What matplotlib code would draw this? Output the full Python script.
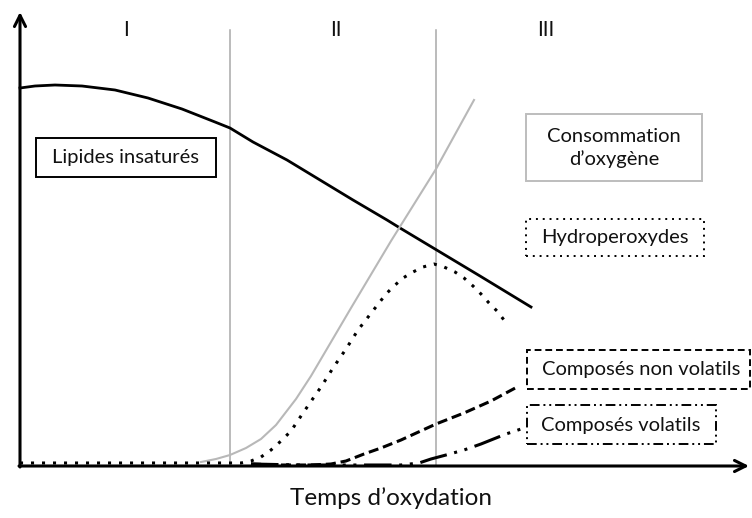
import matplotlib.pyplot as plt
from matplotlib.patches import Rectangle

plt.rcParams['font.family'] = ['Lato', 'DejaVu Sans']

# Courbes d'oxydation des lipides (unités arbitraires)
t_lipides = [0, 15, 35, 62, 95, 128, 162, 195, 210, 233, 267, 300, 333, 367, 380, 400, 415, 460, 511]
v_lipides = [378, 380, 381, 380, 376, 368, 357, 344, 338, 324, 306, 286, 266, 246, 238, 226, 217, 190, 159]

t_oxygene = [181, 196, 210, 226, 241, 256, 276, 291, 301, 331, 371, 416, 454]
v_oxygene = [4, 7, 11, 18, 27, 41, 67, 90, 107, 158, 225, 297, 366]

t_hydro = [0, 221, 231, 241, 251, 261, 271, 281, 294, 301, 313, 326, 338, 352, 366, 374,
           383, 393, 403, 414, 424, 435, 444, 453, 461, 469, 477, 484]
v_hydro = [3, 3, 5, 9, 16, 25, 35, 50, 69, 79, 98, 117, 136, 154, 172, 180,
           188, 194, 199, 202, 199, 194, 188, 180, 172, 163, 155, 146]

t_nonvol = [231, 261, 291, 311, 326, 344, 361, 381, 416, 444, 471, 499]
v_nonvol = [2, 1, 1, 2, 5, 12, 18, 26, 42, 53, 65, 80]

t_vol = [231, 281, 331, 381, 399, 411, 426, 444, 461, 486, 501]
v_vol = [2, 1, 1, 1, 3, 7, 11, 16, 22, 32, 37]

# limites des phases I / II / III
phases = [210, 416]
phase_labels = ['I', 'II', 'III']
phase_label_t = [106, 316, 526]

fig = plt.figure(figsize=(7.52, 5.18), dpi=100)
ax = fig.add_axes([0, 0, 1, 1])
ax.set_xlim(-20, 732)
ax.set_ylim(-52, 466)
ax.axis('off')

# axes avec flèches
arrow = dict(arrowstyle='->', lw=2.2, color='black', mutation_scale=20, shrinkA=0, shrinkB=0)
ax.annotate('', xy=(0, 454), xytext=(0, -1), arrowprops=arrow)
ax.annotate('', xy=(729, 0), xytext=(-1, 0), arrowprops=arrow)

for p in phases:
    ax.plot([p, p], [0, 436], color='#a8a8a8', lw=1.1)
for lab, t in zip(phase_labels, phase_label_t):
    ax.text(t, 436, lab, ha='center', va='center', fontsize=15, color='#111111')

ax.plot(t_lipides, v_lipides, color='black', lw=2)
ax.plot(t_oxygene, v_oxygene, color='#b8b8b8', lw=1.5)
ax.plot(t_hydro, v_hydro, color='black', lw=2.2, linestyle=(0, (1, 2.6)))
ax.plot(t_nonvol, v_nonvol, color='black', lw=2.2, linestyle=(0, (3.3, 1.6)))
ax.plot(t_vol, v_vol, color='black', lw=2.2, linestyle=(0, (9, 2.5, 1, 2.5, 1, 2.5)))

# étiquettes encadrées
boxes = [
    ('Lipides insaturés', (16, 289, 180, 39), 'black', '-', (106, 308)),
    ('Consommation\nd’oxygène', (506, 285, 176, 67), '#bdbdbd', '-', (594, 318)),
    ('Hydroperoxydes', (506, 210, 178, 37), 'black', (0, (1, 2.5)), (595, 228)),
    ('Composés non volatils', (507, 77, 223, 39), 'black', (0, (3.5, 2)), (621, 96)),
    ('Composés volatils', (507, 22, 189, 39), 'black', (0, (5, 2, 1, 2, 1, 2)), (601, 41)),
]
for txt, (x0, y0, w, h), ec, ls, (tx, ty) in boxes:
    ax.add_patch(Rectangle((x0, y0), w, h, fill=False, edgecolor=ec, lw=1.4, linestyle=ls))
    ax.text(tx, ty, txt, ha='center', va='center', fontsize=14.5, color='#111111', linespacing=1.3)

ax.text(371, -32, 'Temps d’oxydation', ha='center', va='center', fontsize=17.5, color='#111111')

fig.savefig('out.png', dpi=100)
